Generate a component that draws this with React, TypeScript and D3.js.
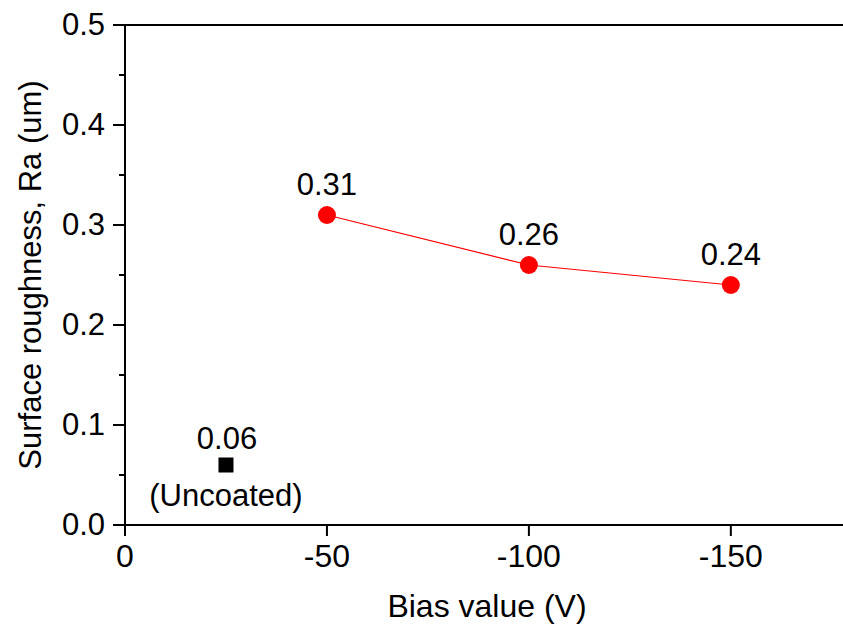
import React from "react";
import * as d3 from "d3";

const coatedBias = [-50, -100, -150];
const coatedRa = [0.31, 0.26, 0.24];
const uncoatedBias = [-25];
const uncoatedRa = [0.06];
const xTicks = [0, -50, -100, -150];
const yTicks = [0, 0.1, 0.2, 0.3, 0.4, 0.5];
const yMinor = [0.05, 0.15, 0.25, 0.35, 0.45];

const W = 843, H = 625;
const FONT = "Arial, 'Liberation Sans', sans-serif";

export default function App() {
  const x = d3.scaleLinear().domain([0, -180]).range([125, 852]);
  const y = d3.scaleLinear().domain([0, 0.5]).range([525, 25]);
  const line = d3.line<number>().x((_, i) => x(coatedBias[i])).y((d) => y(d));
  const fs = 31;
  const fsX = 32;
  return (
    <svg width={W} height={H} style={{ position: "absolute", left: 0, top: 0, background: "#fff" }} fontFamily={FONT}>
      <rect x={0} y={0} width={W} height={H} fill="#fff" />
      {/* axes */}
      <line x1={x(0)} x2={W + 10} y1={y(0)} y2={y(0)} stroke="#000" strokeWidth={2} />
      <line x1={x(0)} x2={W + 10} y1={y(0.5)} y2={y(0.5)} stroke="#000" strokeWidth={2} />
      <line x1={x(0)} x2={x(0)} y1={y(0) + 1} y2={y(0.5) - 1} stroke="#000" strokeWidth={2} />
      {yTicks.map((t) => (
        <g key={"y" + t}>
          <line x1={x(0) - 12} x2={x(0)} y1={y(t)} y2={y(t)} stroke="#000" strokeWidth={2} />
          <text x={x(0) - 20} y={y(t) + 10} textAnchor="end" fontSize={fs} fill="#000">
            {d3.format(".1f")(t)}
          </text>
        </g>
      ))}
      {yMinor.map((t) => (
        <line key={"ym" + t} x1={x(0) - 6} x2={x(0)} y1={y(t)} y2={y(t)} stroke="#000" strokeWidth={2} />
      ))}
      {xTicks.map((t) => (
        <g key={"x" + t}>
          <line x1={x(t)} x2={x(t)} y1={y(0)} y2={y(0) + 11} stroke="#000" strokeWidth={2} />
          <text x={x(t)} y={y(0) + 42} textAnchor="middle" fontSize={fsX} fill="#000">
            {d3.format("d")(t).replace("−", "-")}
          </text>
        </g>
      ))}
      <text x={487} y={617} textAnchor="middle" fontSize={fsX} fill="#000">Bias value (V)</text>
      <text transform={`translate(41,${y(0.25)}) rotate(-90)`} textAnchor="middle" fontSize={fs} fill="#000">
        Surface roughness, Ra (um)
      </text>
      {/* data */}
      <path d={line(coatedRa) || ""} fill="none" stroke="#ff0000" strokeWidth={1.2} />
      {coatedRa.map((v, i) => (
        <g key={"c" + i}>
          <circle cx={x(coatedBias[i])} cy={y(v)} r={9} fill="#ff0000" />
          <text x={x(coatedBias[i])} y={y(v) - 20} textAnchor="middle" fontSize={fs} fill="#000">
            {v.toFixed(2)}
          </text>
        </g>
      ))}
      {uncoatedRa.map((v, i) => (
        <g key={"u" + i}>
          <rect x={x(uncoatedBias[i]) - 7.5} y={y(v) - 7.5} width={15} height={15} fill="#000" />
          <text x={x(uncoatedBias[i]) + 1} y={y(v) - 16} textAnchor="middle" fontSize={fs} fill="#000">
            {v.toFixed(2)}
          </text>
          <text x={x(uncoatedBias[i])} y={y(v) + 41} textAnchor="middle" fontSize={fs} fill="#000">
            (Uncoated)
          </text>
        </g>
      ))}
    </svg>
  );
}
